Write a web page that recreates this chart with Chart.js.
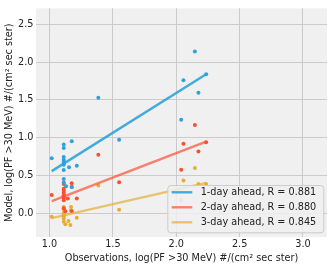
<!DOCTYPE html>
<html>
<head>
<meta charset="utf-8">
<script src="https://cdn.jsdelivr.net/npm/chart.js@4/dist/chart.umd.min.js"></script>
<style>
  html, body { margin: 0; padding: 0; background: #ffffff; }
  #wrap { width: 332px; height: 268px; }
</style>
</head>
<body>
<div id="wrap"><canvas id="chart" width="332" height="268"></canvas></div>
<script>
var day1X = [1.017, 1.112, 1.112, 1.112, 1.112, 1.112, 1.112, 1.112, 1.112, 1.112, 1.112, 1.13, 1.175, 1.154, 1.215, 1.175, 1.385, 1.549, 2.039, 2.057, 2.147, 2.175, 2.236];
var day1Y = [0.73, 0.91, 0.865, 0.745, 0.71, 0.685, 0.665, 0.645, 0.575, 0.455, 0.41, 0.36, 0.35, 0.61, 0.63, 0.955, 1.53, 0.974, 1.237, 1.76, 2.14, 1.595, 1.84];

var day2X = [1.017, 1.112, 1.112, 1.112, 1.112, 1.112, 1.112, 1.112, 1.112, 1.112, 1.125, 1.144, 1.175, 1.175, 1.175, 1.215, 1.385, 1.549, 2.039, 2.057, 2.147, 2.175, 2.236];
var day2Y = [0.246, 0.39, 0.327, 0.30, 0.27, 0.24, 0.22, 0.207, 0.176, 0.069, 0.03, 0.20, 0.40, 0.35, 0.03, 0.20, 0.776, 0.414, 0.577, 0.92, 1.17, 0.82, 0.94];

var day3X = [1.017, 1.112, 1.112, 1.112, 1.112, 1.112, 1.112, 1.112, 1.125, 1.149, 1.164, 1.17, 1.17, 1.215, 1.385, 1.549, 2.039, 2.057, 2.147, 2.175, 2.236];
var day3Y = [-0.044, 0.086, 0.05, 0.008, -0.013, -0.035, -0.065, -0.11, -0.14, -0.10, -0.15, 0.086, 0.043, -0.057, 0.37, 0.05, 0.176, 0.435, 0.60, 0.39, 0.39];

/* Regression line end points */
var fitX = [1.017, 2.236];
var fit1Y = [0.56, 1.84];
var fit2Y = [0.165, 0.95];
var fit3Y = [-0.06, 0.405];

var seriesLabels = ['1-day ahead, R = 0.881', '2-day ahead, R = 0.880', '3-day ahead, R = 0.845'];

var xTitle = 'Observations, log(PF >30 MeV) #/(cm\u00b2 sec ster)';
var yTitle = 'Model, log(PF >30 MeV) #/(cm\u00b2 sec ster)';

var COLORS = {
  blue: '#30a2da',
  red: '#fc4f30',
  yellow: '#e5ae38'
};
var LINE_COLORS = {
  blue: 'rgba(48,162,218,0.9)',
  red: 'rgba(252,79,48,0.7)',
  yellow: 'rgba(229,174,56,0.7)'
};

var FONT = { family: "'DejaVu Sans', sans-serif", size: 9.7 };

function toPoints(xs, ys) {
  return xs.map(function (x, i) { return { x: x, y: ys[i] }; });
}

/* Grey panel behind the plot, like the matplotlib style */
var panelBg = {
  id: 'panelBg',
  beforeDraw: function (chart) {
    var a = chart.chartArea;
    var ctx = chart.ctx;
    ctx.save();
    ctx.fillStyle = '#f0f0f0';
    ctx.fillRect(a.left, a.top, a.right - a.left, a.bottom - a.top);
    ctx.restore();
  }
};

/* Legend box in the lower right corner of the plot */
var innerLegend = {
  id: 'innerLegend',
  afterDraw: function (chart) {
    var a = chart.chartArea;
    var ctx = chart.ctx;
    var right = a.right - 3.7, bottom = a.bottom - 4.7;
    var w = 156, h = 47.3;
    var left = right - w, top = bottom - h;
    ctx.save();
    ctx.beginPath();
    ctx.roundRect(left + 0.5, top + 0.5, w, h, 3);
    ctx.fillStyle = 'rgba(240,240,240,0.85)';
    ctx.fill();
    ctx.strokeStyle = '#cccccc';
    ctx.lineWidth = 1;
    ctx.stroke();
    var cols = [LINE_COLORS.blue, LINE_COLORS.red, LINE_COLORS.yellow];
    ctx.font = FONT.size + 'px ' + FONT.family;
    ctx.textBaseline = 'middle';
    ctx.fillStyle = '#222222';
    for (var i = 0; i < seriesLabels.length; i++) {
      var y = top + 7.3 + i * 15;
      ctx.beginPath();
      ctx.moveTo(left + 4.4, y);
      ctx.lineTo(left + 25, y);
      ctx.strokeStyle = cols[i];
      ctx.lineWidth = 2.4;
      ctx.stroke();
      ctx.fillStyle = '#222222';
      ctx.fillText(seriesLabels[i], left + 33.4, y + 0.5);
    }
    ctx.restore();
  }
};

function lineSet(ys, color) {
  return {
    type: 'line',
    data: toPoints(fitX, ys),
    borderColor: color,
    borderWidth: 2.4,
    pointRadius: 0,
    fill: false,
    order: 0
  };
}

function dotSet(xs, ys, color) {
  return {
    type: 'scatter',
    data: toPoints(xs, ys),
    backgroundColor: color,
    borderWidth: 0,
    pointRadius: 2,
    order: 1
  };
}

new Chart(document.getElementById('chart'), {
  type: 'scatter',
  data: {
    datasets: [
      lineSet(fit1Y, LINE_COLORS.blue),
      lineSet(fit2Y, LINE_COLORS.red),
      lineSet(fit3Y, LINE_COLORS.yellow),
      dotSet(day1X, day1Y, COLORS.blue),
      dotSet(day2X, day2Y, COLORS.red),
      dotSet(day3X, day3Y, COLORS.yellow)
    ]
  },
  options: {
    responsive: false,
    animation: false,
    layout: { padding: { top: 4, right: 5, left: 0, bottom: 0 } },
    plugins: {
      legend: { display: false },
      tooltip: { enabled: false }
    },
    scales: {
      x: {
        type: 'linear',
        min: 0.893,
        max: 3.19,
        afterFit: function (scale) { scale.height = 31; },
        ticks: {
          stepSize: 0.5,
          includeBounds: false,
          padding: 2,
          color: '#222222',
          font: FONT,
          callback: function (v) { return v.toFixed(1); }
        },
        grid: { color: '#cbcbcb', lineWidth: 1, drawTicks: false },
        border: { display: false },
        title: {
          display: true,
          text: xTitle,
          color: '#222222',
          font: FONT,
          padding: { top: 0, bottom: 4 }
        }
      },
      y: {
        type: 'linear',
        min: -0.31,
        max: 2.71,
        afterFit: function (scale) { scale.width = 36; },
        ticks: {
          stepSize: 0.5,
          includeBounds: false,
          padding: 2.5,
          color: '#222222',
          font: FONT,
          callback: function (v) { return v.toFixed(1); }
        },
        grid: { color: '#cbcbcb', lineWidth: 1, drawTicks: false },
        border: { display: false },
        title: {
          display: true,
          text: yTitle,
          color: '#222222',
          font: FONT,
          padding: { top: 4, bottom: 0 }
        }
      }
    }
  },
  plugins: [panelBg, innerLegend]
});
</script>
</body>
</html>
